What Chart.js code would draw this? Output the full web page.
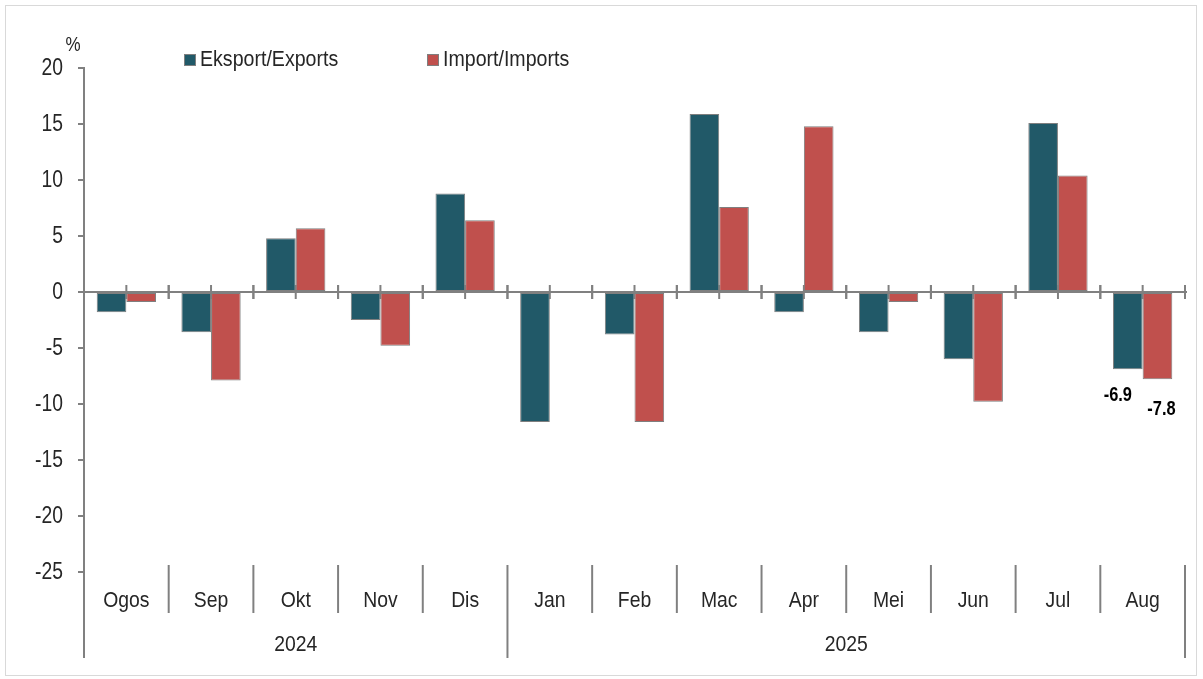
<!DOCTYPE html>
<html>
<head>
<meta charset="utf-8">
<script src="https://cdn.jsdelivr.net/npm/chart.js@4.4.1/dist/chart.umd.min.js"></script>
<style>
  html,body{margin:0;padding:0;background:#fff;}
  #wrap{position:absolute;left:0;top:0;width:1203px;height:679px;}
</style>
</head>
<body>
<div id="wrap"><canvas id="c" width="1203" height="679"></canvas></div>
<script>
const months = ["Ogos","Sep","Okt","Nov","Dis","Jan","Feb","Mac","Apr","Mei","Jun","Jul","Aug"];
const years = [{label:"2024", from:0, to:4},{label:"2025", from:5, to:12}];
const exportsVals = [-1.8,-3.6,4.8,-2.5,8.8,-11.6,-3.8,15.9,-1.8,-3.6,-6.0,15.1,-6.9];
const importsVals = [-0.9,-7.9,5.7,-4.8,6.4,0.1,-11.6,7.6,14.8,-0.9,-9.8,10.4,-7.8];
const seriesNames = ["Eksport/Exports","Import/Imports"];
const seriesColors = ["#215968","#C0504D"];
const labelled = {12:true};
const unitLabel = "%";

const FONT = 'Liberation Sans, Arial, sans-serif';
const AXIS = '#808080';
const TXT = '#262626';

function narrowText(ctx, text, x, y, size, sx, align, bold){
  ctx.save();
  ctx.font = (bold?'bold ':'') + size + 'px ' + FONT;
  ctx.textAlign = align; ctx.textBaseline = 'middle';
  ctx.translate(x, y);
  ctx.scale(sx, 1);
  ctx.fillText(text, 0, 0);
  ctx.restore();
}

const decor = {
  id:'decor',
  beforeDraw(chart){
    const ctx = chart.ctx;
    ctx.save();
    ctx.fillStyle='#fff';
    ctx.fillRect(0,0,chart.width,chart.height);
    ctx.strokeStyle='#d9d9d9';
    ctx.lineWidth=1;
    ctx.strokeRect(5.5,5.5,1191,670);
    ctx.restore();
  },
  beforeDatasetsDraw(chart){
    const ctx = chart.ctx, x = chart.scales.x, y = chart.scales.y;
    const a = chart.chartArea;
    const y0 = Math.round(y.getPixelForValue(0));
    ctx.save();
    ctx.strokeStyle = AXIS;
    ctx.lineWidth = 2;
    ctx.beginPath();
    ctx.moveTo(a.left, y0); ctx.lineTo(a.right+2, y0); ctx.stroke();
    const half = (x.getPixelForValue(1)-x.getPixelForValue(0))/2;
    for(let i=0;i<months.length;i++){
      const c = x.getPixelForValue(i);
      [c-half, c, c+half].forEach(px=>{
        ctx.beginPath(); ctx.moveTo(px, y0-7); ctx.lineTo(px, y0+7); ctx.stroke();
      });
    }
    ctx.restore();
  },
  afterDatasetsDraw(chart){
    const ctx = chart.ctx, x = chart.scales.x, y = chart.scales.y;
    const a = chart.chartArea;
    ctx.save();
    // y tick labels
    ctx.fillStyle = TXT;
    y.ticks.forEach(t=>{
      narrowText(ctx, String(t.value), 63, y.getPixelForValue(t.value)+1, 23, 0.84, 'right', false);
    });
    // data labels
    ctx.fillStyle='#000';
    chart.data.datasets.forEach((ds,di)=>{
      const meta = chart.getDatasetMeta(di);
      meta.data.forEach((bar,i)=>{
        if(!labelled[i]) return;
        const v = ds.data[i];
        const off = di===0 ? -10 : 4;
        narrowText(ctx, v.toFixed(1), bar.x+off, bar.y + (di===0?26:30), 20, 0.82, 'center', true);
      });
    });
    // category axis separators & labels
    const half = (x.getPixelForValue(1)-x.getPixelForValue(0))/2;
    const top = a.bottom-7;
    ctx.strokeStyle = AXIS; ctx.lineWidth = 2;
    const yearStarts = new Set(years.map(g=>g.from));
    for(let i=0;i<=months.length;i++){
      const px = i<months.length ? x.getPixelForValue(i)-half : x.getPixelForValue(months.length-1)+half;
      const long = yearStarts.has(i) || i===months.length;
      ctx.beginPath(); ctx.moveTo(px, top); ctx.lineTo(px, long?658:613); ctx.stroke();
    }
    ctx.fillStyle = TXT;
    months.forEach((m,i)=>{ narrowText(ctx, m, x.getPixelForValue(i), 601, 22, 0.88, 'center', false); });
    years.forEach(g=>{
      const cx = (x.getPixelForValue(g.from)+x.getPixelForValue(g.to))/2;
      narrowText(ctx, g.label, cx, 645, 22, 0.88, 'center', false);
    });
    narrowText(ctx, unitLabel, 73, 45, 20, 0.85, 'center', false);
    // legend
    const lx = [184, 427];
    chart.data.datasets.forEach((ds,di)=>{
      ctx.fillStyle = ds.backgroundColor;
      ctx.fillRect(lx[di], 54, 12, 12);
      ctx.strokeStyle='#7f7f7f'; ctx.lineWidth=1;
      ctx.strokeRect(lx[di]+0.5, 54.5, 11, 11);
      ctx.fillStyle = TXT;
      narrowText(ctx, ds.label, lx[di]+16, 60, 22, 0.89, 'left', false);
    });
    ctx.restore();
  }
};

new Chart(document.getElementById('c'), {
  type:'bar',
  data:{
    labels: months,
    datasets:[
      {label:seriesNames[0], data:exportsVals, backgroundColor:seriesColors[0], borderColor:'#7f7f7f', borderWidth:1, borderSkipped:false},
      {label:seriesNames[1], data:importsVals, backgroundColor:seriesColors[1], borderColor:'#7f7f7f', borderWidth:1, borderSkipped:false}
    ]
  },
  options:{
    responsive:false,
    animation:false,
    devicePixelRatio:1,
    layout:{padding:{left:0,top:68,right:18,bottom:107}},
    plugins:{legend:{display:false}, tooltip:{enabled:false}},
    datasets:{bar:{categoryPercentage:0.7, barPercentage:1.0}},
    scales:{
      x:{display:false, offset:true, grid:{display:false}},
      y:{
        min:-25, max:20,
        afterFit(s){ s.width = 84; },
        ticks:{stepSize:5, font:{size:20, family:FONT}, color:'rgba(0,0,0,0)', padding:14},
        grid:{drawOnChartArea:false, drawTicks:true, tickLength:6, color:AXIS, lineWidth:2},
        border:{display:true, color:AXIS, width:2}
      }
    }
  },
  plugins:[decor]
});
</script>
</body>
</html>
